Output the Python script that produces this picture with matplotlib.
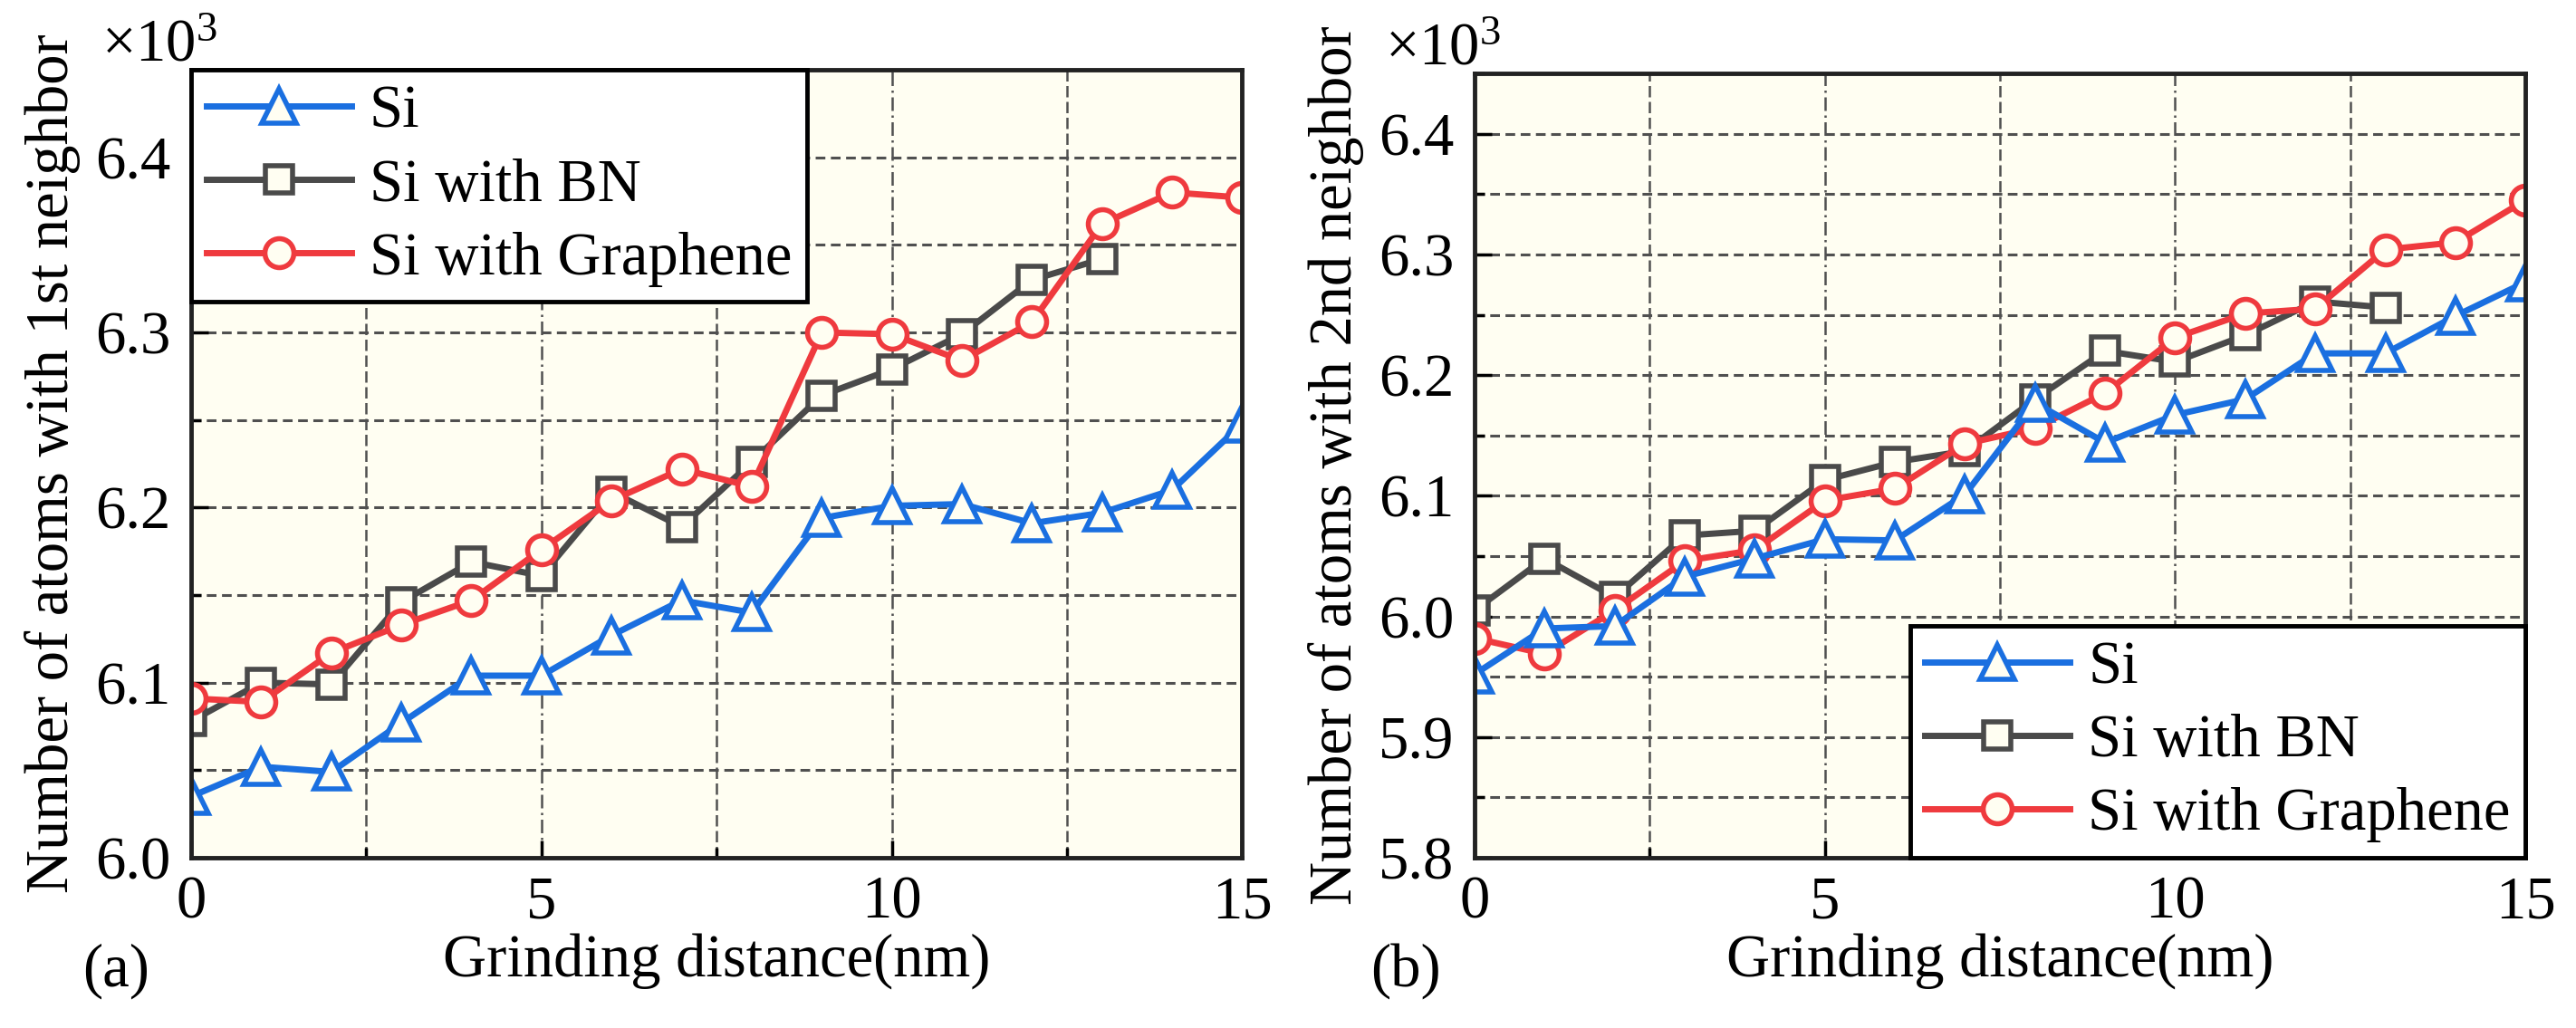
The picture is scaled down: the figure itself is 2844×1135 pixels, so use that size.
import matplotlib
matplotlib.use("Agg")
import matplotlib.pyplot as plt
from matplotlib.ticker import MultipleLocator

plt.rcParams["font.family"] = "serif"
plt.rcParams["font.serif"] = ["Liberation Serif", "Times New Roman", "DejaVu Serif"]
plt.rcParams["mathtext.fontset"] = "custom"
plt.rcParams["mathtext.rm"] = "Liberation Serif"

# grinding distance (nm)
x_full = list(range(16))
x_bn = list(range(14))

# (a) atoms with 1st neighbor (x10^3)
si_1st = [6.035, 6.052, 6.049, 6.077, 6.104, 6.104, 6.127, 6.147,
          6.140, 6.194, 6.201, 6.202, 6.191, 6.197, 6.210, 6.248]
bn_1st = [6.078, 6.100, 6.099, 6.146, 6.169, 6.161, 6.209, 6.189,
          6.226, 6.264, 6.279, 6.299, 6.330, 6.342]
gr_1st = [6.091, 6.089, 6.117, 6.133, 6.147, 6.176, 6.204, 6.222,
          6.212, 6.300, 6.299, 6.284, 6.306, 6.362, 6.380, 6.377]

# (b) atoms with 2nd neighbor (x10^3)
si_2nd = [5.952, 5.990, 5.992, 6.033, 6.048, 6.064, 6.063, 6.101,
          6.177, 6.144, 6.167, 6.180, 6.218, 6.218, 6.249, 6.277]
bn_2nd = [6.005, 6.048, 6.016, 6.067, 6.071, 6.113, 6.128, 6.137,
          6.180, 6.220, 6.211, 6.233, 6.261, 6.256]
gr_2nd = [5.982, 5.969, 6.005, 6.046, 6.055, 6.096, 6.106, 6.143,
          6.156, 6.185, 6.231, 6.251, 6.255, 6.304, 6.310, 6.345]

labels = ["Si", "Si with BN", "Si with Graphene"]
c_si, c_bn, c_gr = "#1a6fe0", "#4a4a4a", "#ef3a3e"
bg = "#fffef2"
FS = 48

fig = plt.figure(figsize=(28.44, 11.35), dpi=100)
ax1 = fig.add_axes([0.0742, 0.1656, 0.408, 0.7665])
ax2 = fig.add_axes([0.5724, 0.1656, 0.408, 0.7630])


def draw(ax, si, bn, gr, ylo, ylabel, legend_loc, tag, tag_x):
    ax.set_facecolor(bg)
    kw = dict(lw=5, mew=4, mfc=bg)
    l_bn, = ax.plot(x_bn, bn, color=c_bn, marker="s", ms=21, zorder=3, **kw)
    l_gr, = ax.plot(x_full, gr, color=c_gr, marker="o", ms=23, zorder=4, **kw)
    l_si, = ax.plot(x_full, si, color=c_si, marker="^", ms=27, zorder=5, **kw)

    ax.set_xlim(0, 15)
    ax.set_ylim(ylo, 6.45)
    ax.xaxis.set_major_locator(MultipleLocator(5))
    ax.xaxis.set_minor_locator(MultipleLocator(2.5))
    ax.yaxis.set_major_locator(MultipleLocator(0.1))
    ax.yaxis.set_minor_locator(MultipleLocator(0.05))
    ax.yaxis.set_major_formatter(lambda v, p: f"{v:.1f}")

    ax.tick_params(which="both", direction="in", labelsize=FS,
                   top=False, right=False, width=2.5)
    ax.tick_params(which="major", length=14)
    ax.tick_params(which="minor", length=8)
    ax.tick_params(axis="y", pad=16)
    ax.tick_params(axis="x", pad=14)

    ax.grid(True, axis="y", which="both", color="#505050", lw=2.2,
            linestyle=(0, (3.5, 2)))
    ax.grid(True, axis="x", which="major", color="#505050", lw=1.8,
            linestyle=(0, (6, 2, 1, 2)))
    ax.grid(True, axis="x", which="minor", color="#505050", lw=1.8,
            linestyle=(0, (5, 2)))
    ax.set_axisbelow(True)

    for s in ax.spines.values():
        s.set_linewidth(3.5)
        s.set_color("#222222")
        s.set_zorder(6)

    ax.set_xlabel("Grinding distance(nm)", fontsize=FS, labelpad=2)
    ax.set_ylabel(ylabel, fontsize=FS)
    ax.yaxis.set_label_coords(-0.105, 0.5)
    ax.text(-0.085, 0.995, r"$\times\mathrm{10^3}$", transform=ax.transAxes,
            fontsize=FS, ha="left", va="bottom")

    leg = ax.legend([l_si, l_bn, l_gr], labels, loc=legend_loc, fontsize=FS,
                    frameon=True, fancybox=False, framealpha=1,
                    edgecolor="black", borderaxespad=0, borderpad=0.25,
                    handlelength=2.4, handletextpad=0.3, labelspacing=0.3)
    leg.get_frame().set_linewidth(3.5)
    leg.set_zorder(10)

    fig.text(tag_x, 0.028, tag, fontsize=FS, ha="left", va="bottom")


draw(ax1, si_1st, bn_1st, gr_1st, 6.0, "Number of atoms with 1st neighbor",
     "upper left", "(a)", 0.032)
draw(ax2, si_2nd, bn_2nd, gr_2nd, 5.8, "Number of atoms with 2nd neighbor",
     "lower right", "(b)", 0.532)

fig.savefig("out.png", dpi=100)
